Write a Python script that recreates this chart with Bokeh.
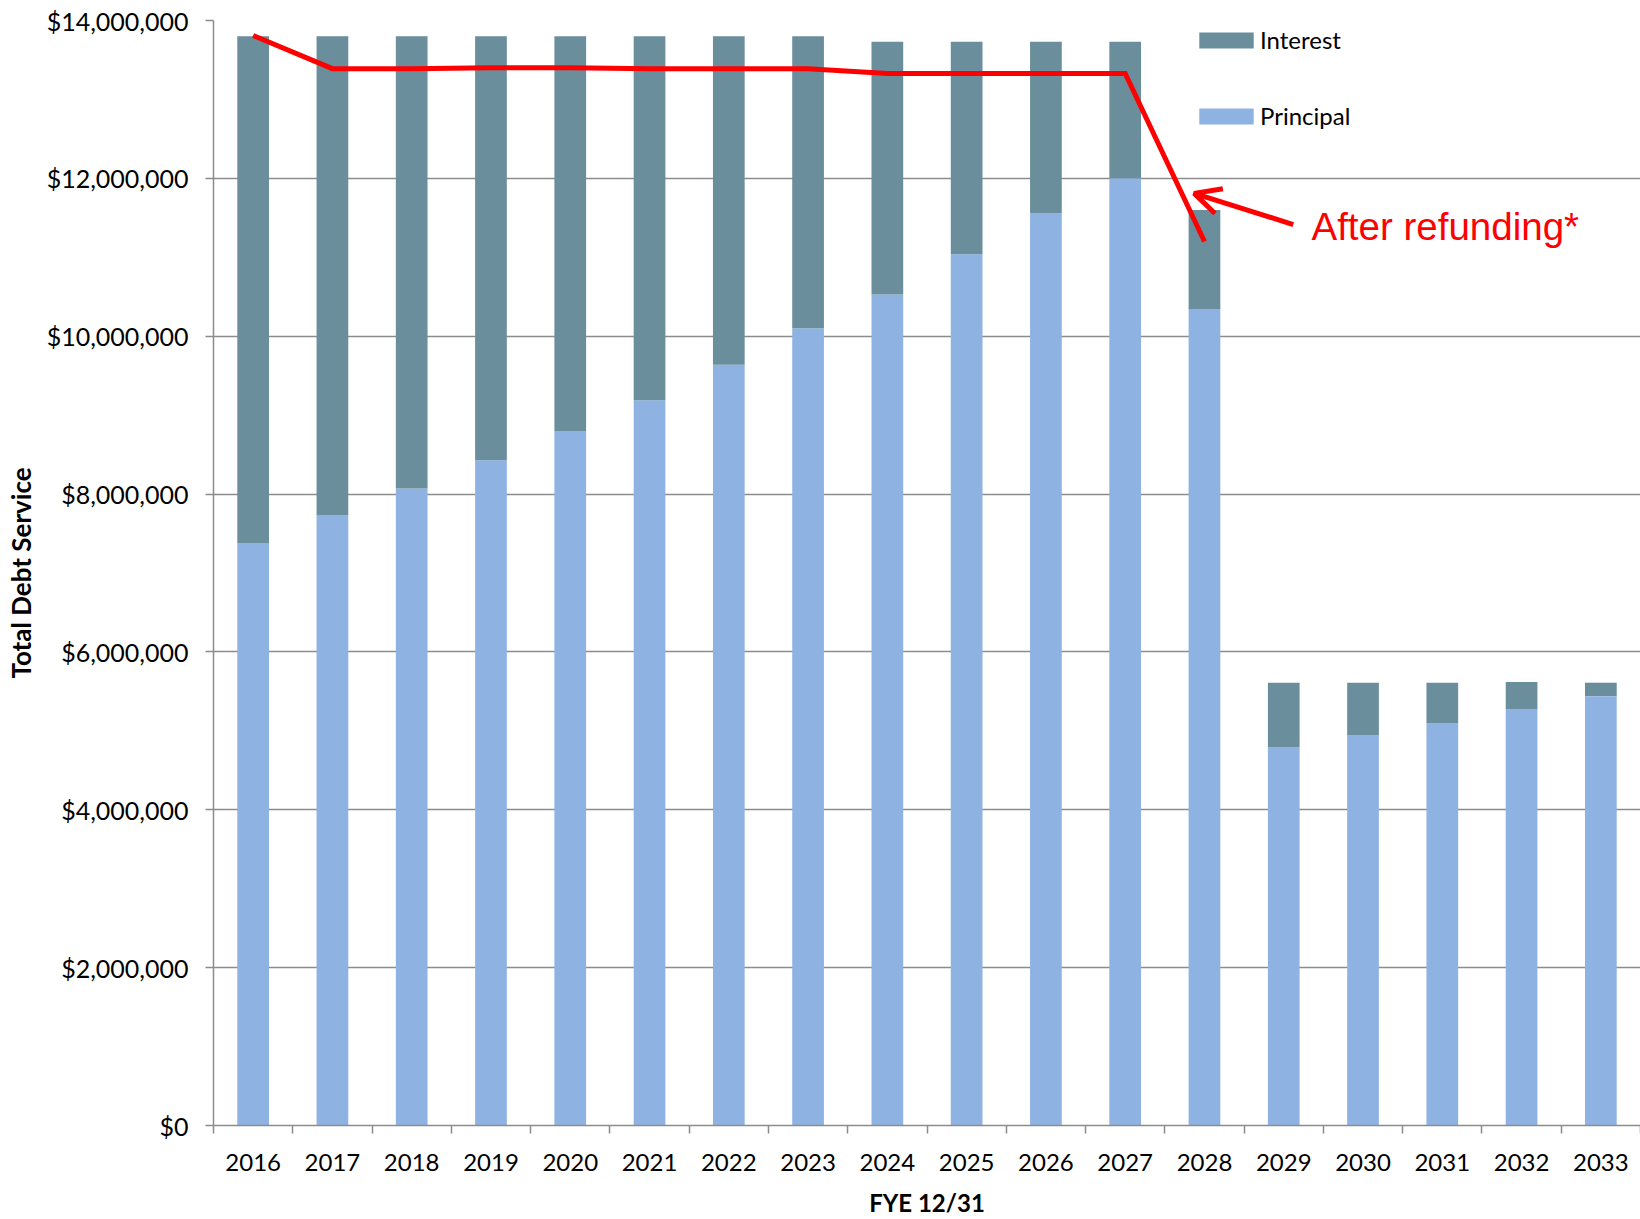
from bokeh.plotting import figure
from bokeh.models import (ColumnDataSource, Range1d, FixedTicker, NumeralTickFormatter,
                          Legend, LegendItem, Arrow, OpenHead, Label)
from bokeh.embed import file_html
from bokeh.resources import INLINE

years = ["2016", "2017", "2018", "2019", "2020", "2021", "2022", "2023", "2024",
         "2025", "2026", "2027", "2028", "2029", "2030", "2031", "2032", "2033"]
principal = [7.38e6, 7.73e6, 8.07e6, 8.43e6, 8.80e6, 9.19e6, 9.64e6, 10.10e6, 10.53e6,
             11.04e6, 11.56e6, 12.00e6, 10.34e6, 4.79e6, 4.94e6, 5.10e6, 5.27e6, 5.44e6]
total = [13.80e6, 13.80e6, 13.80e6, 13.80e6, 13.80e6, 13.80e6, 13.80e6, 13.80e6, 13.73e6,
         13.73e6, 13.73e6, 13.73e6, 11.60e6, 5.61e6, 5.61e6, 5.61e6, 5.62e6, 5.61e6]
interest = [t - pr for t, pr in zip(total, principal)]
refund_years = ["2016", "2017", "2018", "2019", "2020", "2021", "2022", "2023", "2024",
                "2025", "2026", "2027", "2028"]
after_refunding = [13.81e6, 13.39e6, 13.39e6, 13.40e6, 13.40e6, 13.39e6, 13.39e6, 13.39e6,
                   13.33e6, 13.33e6, 13.33e6, 13.33e6, 11.20e6]

FONT = "Lato"
GRID = "#8c8c8c"
C_INT = "#6a8e9c"
C_PRI = "#8eb3e2"

xc = [i + 0.5 for i in range(len(years))]
src = ColumnDataSource(dict(x=xc, principal=principal, interest=interest,
                            total=total))

p = figure(width=1640, height=1219, output_backend="svg", toolbar_location=None,
           x_range=Range1d(0, len(years)), y_range=Range1d(0, 14e6),
           min_border_left=213, min_border_right=0, min_border_top=20,
           min_border_bottom=94)
p.outline_line_color = None
p.background_fill_color = "white"
p.border_fill_color = "white"

r_pri = p.vbar(x="x", width=0.4, bottom=0, top="principal", source=src,
               fill_color=C_PRI, line_color=None)
r_int = p.vbar(x="x", width=0.4, bottom="principal", top="total", source=src,
               fill_color=C_INT, line_color=None)

rx = [xc[years.index(y)] for y in refund_years]
p.line(rx, after_refunding, line_color="#ff0000", line_width=5, line_join="miter")

# axes
p.xgrid.grid_line_color = None
p.ygrid.grid_line_color = GRID
p.ygrid.grid_line_width = 1.5
p.yaxis.ticker = FixedTicker(ticks=[i * 2e6 for i in range(8)])
p.yaxis.formatter = NumeralTickFormatter(format="$0,0")
p.yaxis.axis_line_color = GRID
p.yaxis.axis_line_width = 1.5
p.yaxis.major_tick_line_color = GRID
p.yaxis.major_tick_line_width = 1.5
p.yaxis.major_tick_out = 8
p.yaxis.major_tick_in = 0
p.yaxis.minor_tick_out = 0
p.yaxis.minor_tick_in = 0
p.yaxis.major_label_standoff = 17
p.yaxis.major_label_text_font = FONT
p.yaxis.major_label_text_font_size = "25px"
p.yaxis.major_label_text_color = "black"
p.yaxis.axis_label = "Total Debt Service"
p.yaxis.axis_label_text_font = FONT
p.yaxis.axis_label_text_font_style = "bold"
p.yaxis.axis_label_text_font_size = "26px"
p.yaxis.axis_label_text_color = "black"
p.yaxis.axis_label_standoff = 7

p.xaxis.ticker = FixedTicker(ticks=xc, minor_ticks=list(range(len(years) + 1)))
p.xaxis.major_label_overrides = {x: y for x, y in zip(xc, years)}
p.xaxis.axis_line_color = GRID
p.xaxis.axis_line_width = 1.5
p.xaxis.major_tick_out = 0
p.xaxis.major_tick_in = 0
p.xaxis.minor_tick_out = 8
p.xaxis.minor_tick_in = 0
p.xaxis.minor_tick_line_color = GRID
p.xaxis.minor_tick_line_width = 1.5
p.xaxis.major_label_standoff = 20
p.xaxis.major_label_text_font = FONT
p.xaxis.major_label_text_font_size = "24px"
p.xaxis.major_label_text_color = "black"
p.xaxis.axis_label = "FYE 12/31"
p.xaxis.axis_label_text_font = FONT
p.xaxis.axis_label_text_font_style = "bold"
p.xaxis.axis_label_text_font_size = "24px"
p.xaxis.axis_label_text_color = "black"
p.xaxis.axis_label_standoff = 14

# annotation
p.add_layout(Arrow(end=OpenHead(size=26, line_color="#ff0000", line_width=5),
                   x_start=13.62, y_start=11.415e6, x_end=12.37, y_end=11.81e6,
                   line_color="#ff0000", line_width=5))
p.add_layout(Label(x=13.85, y=11.39e6, text="After refunding*", text_color="#ff0000",
                   text_font="Liberation Sans", text_font_size="38.5px",
                   text_baseline="middle"))

legend = Legend(items=[LegendItem(label="Interest", renderers=[r_int]),
                       LegendItem(label="Principal", renderers=[r_pri])],
                location=(979, 995), orientation="vertical",
                glyph_width=68, glyph_height=20, label_height=21, spacing=47,
                label_standoff=0, padding=0, margin=0,
                border_line_color=None, background_fill_alpha=0,
                label_text_font=FONT, label_text_font_size="24px",
                label_text_color="black")
p.add_layout(legend, "center")

open("out.html", "w").write(file_html(p, INLINE))
